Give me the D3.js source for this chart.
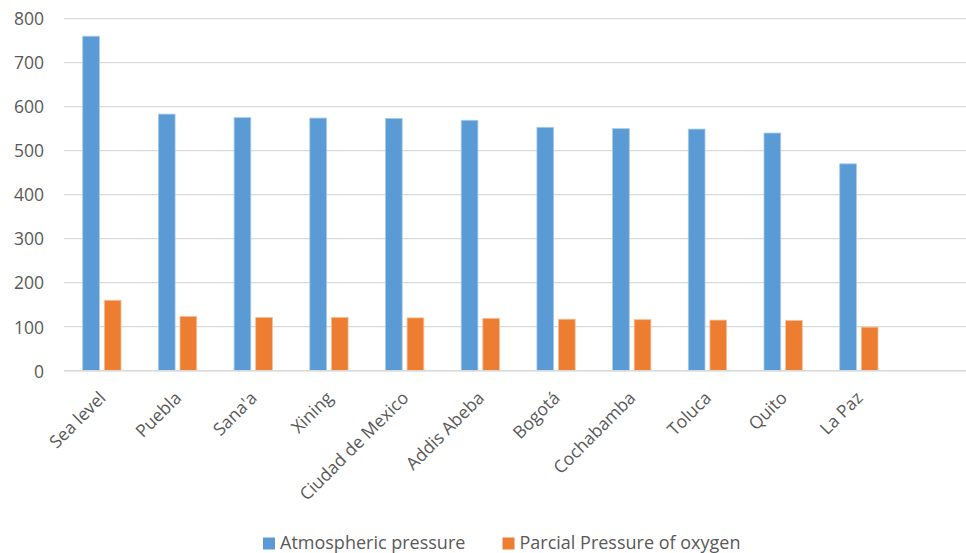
<!DOCTYPE html>
<html><head><meta charset="utf-8">
<script src="https://cdn.jsdelivr.net/npm/d3@7"></script>
<style>html,body{margin:0;padding:0;background:#fff;}svg{display:block;font-family:"Open Sans",sans-serif;}</style>
</head><body>
<svg id="c" width="966" height="553"></svg>
<script>
const categories = ["Sea level","Puebla","Sana'a","Xining","Ciudad de Mexico","Addis Abeba","Bogotá","Cochabamba","Toluca","Quito","La Paz"];
const atmospheric = [760, 583, 575, 574, 573, 569, 553, 550, 549, 540, 470];
const oxygen = [160, 123, 121, 121, 120, 119, 117, 116, 115, 114, 99];
const seriesNames = ["Atmospheric pressure","Parcial Pressure of oxygen"];
const colors = ["#5B9BD5","#ED7D31"];
const yTicks = [0,100,200,300,400,500,600,700,800];

const svg = d3.select("#c");
const left = 64, bandW = 75.7;
const slots = categories.concat([""]);
const x = d3.scaleBand().domain(d3.range(slots.length)).range([left, left + bandW*slots.length]).paddingInner(0).paddingOuter(0);
const y = d3.scaleLinear().domain([0,800]).range([370.7, 18.6]);
const plotRight = 966;

// gridlines
svg.append("g").selectAll("line").data(yTicks).join("line")
  .attr("x1", left).attr("x2", plotRight)
  .attr("y1", d=>y(d)).attr("y2", d=>y(d))
  .attr("stroke", "#D9D9D9").attr("stroke-width", 1.3);

// y axis labels
const yAxis = d3.axisLeft(y).tickValues(yTicks).tickSize(0).tickPadding(0);
const ya = svg.append("g").attr("transform", `translate(44,0)`).call(yAxis);
ya.select(".domain").remove();
ya.selectAll("text").attr("font-size", 17.5).attr("fill", "#595959").attr("font-family", "'Open Sans',sans-serif").attr("dy","0.36em");

// bars
const groupInset = 18.7, barW = 16.7, gap = 4.9;
const series = [atmospheric, oxygen];
series.forEach((vals, si) => {
  svg.append("g").selectAll("rect").data(vals).join("rect")
    .attr("x", (d,i) => x(i) + groupInset + si*(barW+gap))
    .attr("width", barW)
    .attr("y", d => y(d))
    .attr("height", d => y(0) - y(d))
    .attr("fill", colors[si])
    .attr("stroke", si===0 ? "#A9CBEA" : "#F6C09A").attr("stroke-width", 0.8);
});

// baseline
svg.append("line").attr("x1", left).attr("x2", plotRight).attr("y1", y(0)).attr("y2", y(0))
  .attr("stroke", "#D9D9D9").attr("stroke-width", 1.5);

// x labels
svg.append("g").selectAll("text").data(categories).join("text")
  .attr("transform", (d,i) => `translate(${x(i)+x.bandwidth()/2+5},${399}) rotate(-45)`)
  .attr("text-anchor", "end")
  .attr("font-size", 17.5).attr("fill", "#595959")
  .text(d=>d);

// legend
const legend = [{n:seriesNames[0], c:colors[0], x:263},{n:seriesNames[1], c:colors[1], x:502.5}];
const lg = svg.append("g");
legend.forEach(l => {
  lg.append("rect").attr("x", l.x).attr("y", 537.5).attr("width", 12).attr("height", 12).attr("fill", l.c);
  lg.append("text").attr("x", l.x+17).attr("y", 549).attr("font-size", 18).attr("fill", "#595959").text(l.n);
});
</script>
</body></html>
